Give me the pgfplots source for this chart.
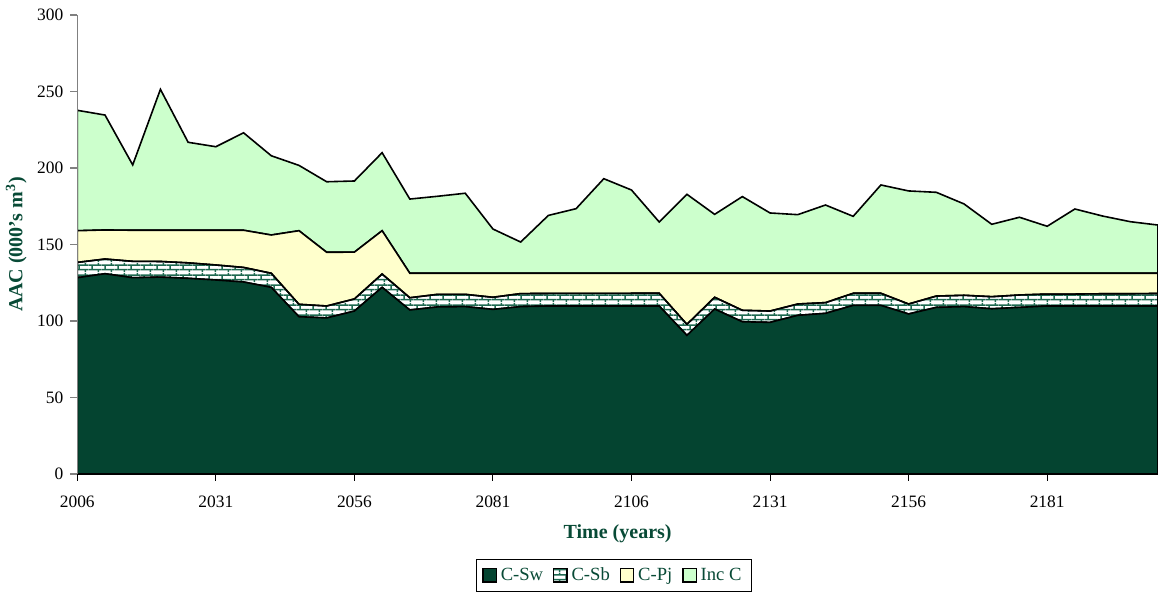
\documentclass[border=0pt]{standalone}
\usepackage{fontspec}
\setmainfont{Liberation Serif}
\usepackage{pgfplots}
\pgfplotsset{compat=1.18}
\usepackage{pgfplotstable}
\usetikzlibrary{patterns.meta}

\definecolor{cSw}{RGB}{4,68,48}
\definecolor{cSb}{RGB}{30,105,80}
\definecolor{cPj}{RGB}{255,255,204}
\definecolor{cInc}{RGB}{204,255,204}
\definecolor{lab}{RGB}{8,74,54}

\tikzdeclarepattern{
  name=smallbricks,
  type=uncolored,
  bottom left={(0pt,0pt)},
  top right={(6.4pt,5pt)},
  tile size={(6.4pt,5pt)},
  code={
    \pgfsetlinewidth{0.8pt}
    \draw (0pt,1.25pt) -- (6.4pt,1.25pt);
    \draw (0pt,3.75pt) -- (6.4pt,3.75pt);
    \draw (1.6pt,1.25pt) -- (1.6pt,3.75pt);
    \draw (4.8pt,3.75pt) -- (4.8pt,5pt);
    \draw (4.8pt,0pt) -- (4.8pt,1.25pt);
  }
}

\pgfplotstableread{
year sw sb pj inc
2006 128.3 10.0 20.7 78.7
2011 130.9 9.6 19.0 75.1
2016 128.3 10.7 20.3 42.7
2021 128.7 10.2 20.4 92.1
2026 127.9 10.1 21.3 57.5
2031 126.8 9.8 22.7 54.6
2036 125.5 9.5 24.3 63.7
2041 122.0 9.2 25.0 51.8
2046 102.8 8.1 48.1 42.7
2051 102.0 7.8 35.1 46.1
2056 106.5 7.9 30.6 46.5
2061 122.0 8.7 28.3 51.0
2066 107.2 8.0 16.0 48.5
2071 109.2 8.2 13.8 50.3
2076 109.4 8.0 13.8 52.3
2081 107.6 7.9 15.7 28.9
2086 109.4 8.5 13.3 20.4
2091 109.8 8.2 13.2 37.8
2096 109.8 8.2 13.2 42.2
2101 109.8 8.2 13.2 61.8
2106 109.8 8.3 13.1 54.4
2111 109.8 8.3 13.1 33.5
2116 90.6 7.2 33.4 51.6
2121 107.8 7.7 15.7 38.5
2126 99.5 7.5 24.2 50.1
2131 99.1 7.4 24.7 39.4
2136 103.7 7.4 20.1 38.3
2141 105.0 7.0 19.2 44.6
2146 110.2 7.9 13.1 37.2
2151 110.2 7.9 13.1 57.7
2156 104.6 6.5 20.1 53.8
2161 108.9 7.4 14.9 52.9
2166 109.4 7.4 14.4 45.3
2171 108.0 7.9 15.3 32.0
2176 108.9 8.1 14.2 36.6
2181 109.8 7.8 13.6 30.7
2186 109.8 7.8 13.6 42.0
2191 109.8 8.0 13.4 37.4
2196 109.8 8.0 13.4 33.7
2201 109.8 8.2 13.2 31.5
}\data

\begin{document}
\begin{tikzpicture}
\begin{axis}[
  scale only axis,
  width=540.35pt, height=229.5pt,
  xmin=2006, xmax=2201, ymin=0, ymax=300,
  xtick={2006,2031,...,2181},
  ytick={0,50,...,300},
  axis lines*=left,
  axis on top,
  tick align=outside,
  major tick length=3.5pt,
  x axis line style={black,line width=1.3pt},
  y axis line style={gray,line width=0.6pt},
  xtick style={black,line width=0.5pt},
  ytick style={gray,line width=0.6pt},
  /pgf/number format/assume math mode=true,
  /pgf/number format/1000 sep={},
  xticklabel style={font=\fontsize{8.7}{10}\selectfont, yshift=-4pt},
  yticklabel style={font=\fontsize{8.7}{10}\selectfont},
  xlabel={Time (years)},
  xlabel style={font=\fontsize{10}{12}\selectfont\bfseries, text=lab,
    at={(axis description cs:0.5,-0.131)}, anchor=center},
  ylabel={AAC (000's m\textsuperscript{3})},
  ylabel style={font=\fontsize{10}{12}\selectfont\bfseries, text=lab,
    at={(axis description cs:-0.0565,0.5)}, anchor=center},
  legend style={at={(0.4966,-0.185)}, anchor=north, legend columns=4,
    draw=black, line width=0.6pt, font=\fontsize{9.3}{11}\selectfont,
    text=lab, inner xsep=3pt, inner ysep=2pt,
    /tikz/every even column/.append style={column sep=3pt}},
  legend image code/.code={\draw[#1,draw=black,line width=0.6pt] (0pt,-3.3pt) rectangle (6.6pt,3.3pt);},
  stack plots=y,
]
\addplot[fill=cSw, draw=black, line width=0.8pt] table[x=year,y=sw]{\data} \closedcycle;
\addlegendentry{C-Sw}
\addplot[pattern={smallbricks}, pattern color=cSb, draw=black, line width=0.8pt] table[x=year,y=sb]{\data} \closedcycle;
\addlegendentry{C-Sb}
\addplot[fill=cPj, draw=black, line width=0.8pt] table[x=year,y=pj]{\data} \closedcycle;
\addlegendentry{C-Pj}
\addplot[fill=cInc, draw=black, line width=0.8pt] table[x=year,y=inc]{\data} \closedcycle;
\addlegendentry{Inc C}
\coordinate (bl) at (rel axis cs:0,0);
\coordinate (tr) at (rel axis cs:1,1);
\end{axis}
\pgfresetboundingbox
\path[use as bounding box] ([shift={(-38.65pt,-59pt)}]bl) rectangle ([shift={(0pt,7.5pt)}]tr);
\end{tikzpicture}
\end{document}
